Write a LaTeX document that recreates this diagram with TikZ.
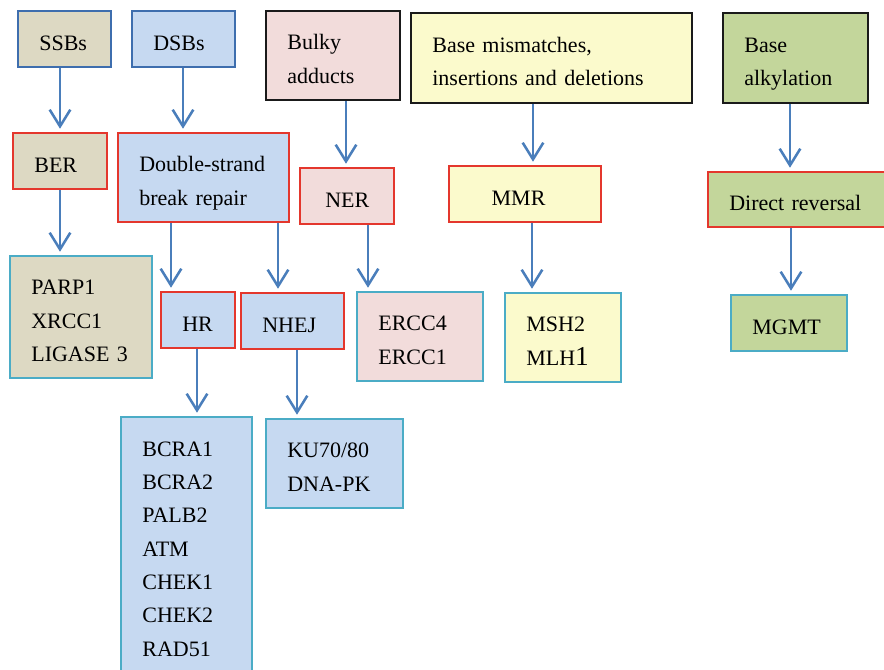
\documentclass[tikz,border=0pt]{standalone}
\usepackage{fontspec}
\setmainfont{Liberation Serif}
\usetikzlibrary{arrows.meta}
\definecolor{tanf}{HTML}{DDD9C3}
\definecolor{bluef}{HTML}{C6D9F1}
\definecolor{pinkf}{HTML}{F2DCDB}
\definecolor{yelf}{HTML}{FBFACC}
\definecolor{grnf}{HTML}{C3D69B}
\definecolor{bluel}{HTML}{3E6EAE}
\definecolor{redl}{HTML}{E4372D}
\definecolor{cyanl}{HTML}{4BACC6}
\definecolor{blackl}{HTML}{1A1A1A}
\definecolor{arrc}{HTML}{4A7EBB}
\newcommand\tS{\rule{0pt}{20.5pt}}
\newcommand\bS{\rule[-4pt]{0pt}{4pt}}
\begin{document}
\begin{tikzpicture}[x=0.75pt,y=-0.75pt,
  bx/.style={rectangle, line width=1.4pt, inner xsep=16pt, inner ysep=2pt, align=left,
    font=\fontsize{16.5pt}{25pt}\selectfont, text=black},
  arr/.style={arrc, line width=1.9pt, -{Straight Barb[length=12.5pt,width=15.5pt]}, shorten >=2.5pt},
]
\useasboundingbox (0,0) rectangle (884,669);
% top row
\node[bx, fill=tanf, draw=bluel, minimum width=69.75pt, minimum height=42pt, text width=37.75pt] (ssb) at (64.5,39) {\tS SSBs\bS};
\node[bx, fill=bluef, draw=bluel, minimum width=77.25pt, minimum height=42pt, text width=45.25pt] (dsb) at (183.5,39) {\tS DSBs\bS};
\node[bx, fill=pinkf, draw=blackl, minimum width=100.5pt, minimum height=66.75pt, text width=68.5pt] (bulky) at (333,55.5) {\tS Bulky\\adducts\bS};
\node[bx, fill=yelf, draw=blackl, minimum width=210.75pt, minimum height=67.5pt, text width=178.75pt] (mis) at (551.5,58) {\tS Base mismatches,\\insertions and deletions\bS};
\node[bx, fill=grnf, draw=blackl, minimum width=108.75pt, minimum height=67.5pt, text width=76.75pt] (alk) at (795.5,58) {\tS Base\\alkylation\bS};
% second row
\node[bx, fill=tanf, draw=redl, minimum width=70.5pt, minimum height=42pt, text width=38.5pt] (ber) at (60,161) {\tS BER\bS};
\node[bx, fill=bluef, draw=redl, minimum width=128.25pt, minimum height=66.75pt, text width=96.25pt] (dsbr) at (203.5,177.5) {\tS\mbox{Double-strand}\\break repair\bS};
\node[bx, fill=pinkf, draw=redl, minimum width=70.5pt, minimum height=42pt, text width=38.5pt] (ner) at (347,196) {\tS\hspace*{3pt}NER\bS};
\node[bx, fill=yelf, draw=redl, minimum width=114pt, minimum height=42pt, text width=82pt] (mmr) at (525,194) {\tS\hspace*{16pt}MMR\bS};
\node[bx, fill=grnf, draw=redl, minimum width=133.5pt, minimum height=41.25pt, text width=101.5pt] (dr) at (797,199.5) {\tS Direct reversal\bS};
% third row
\node[bx, fill=tanf, draw=cyanl, minimum width=106.5pt, minimum height=91.5pt, text width=74.5pt] (parp) at (81,317) {\tS PARP1\\XRCC1\\LIGASE 3\bS};
\node[bx, fill=bluef, draw=redl, minimum width=55.5pt, minimum height=42pt, text width=23.5pt] (hr) at (198,320) {\tS\mbox{HR}\bS};
\node[bx, fill=bluef, draw=redl, minimum width=77.25pt, minimum height=42pt, text width=45.25pt] (nhej) at (292.5,321) {\tS NHEJ\bS};
\node[bx, fill=pinkf, draw=cyanl, minimum width=94.5pt, minimum height=66.75pt, text width=62.5pt] (ercc) at (420,336.5) {\tS ERCC4\\ERCC1\bS};
\node[bx, fill=yelf, draw=cyanl, minimum width=87pt, minimum height=66.75pt, text width=55pt] (msh) at (563,337.5) {\tS MSH2\\MLH{\fontsize{20.5pt}{25pt}\selectfont 1}\bS};
\node[bx, fill=grnf, draw=cyanl, minimum width=87pt, minimum height=42pt, text width=55pt] (mgmt) at (789,323) {\tS MGMT\bS};
% fourth row
\node[bx, fill=bluef, draw=cyanl, minimum width=98.25pt, minimum height=192pt, text width=66.25pt] (bcra) at (186.5,545) {\tS BCRA1\\BCRA2\\PALB2\\ATM\\CHEK1\\CHEK2\\RAD51\bS};
\node[bx, fill=bluef, draw=cyanl, minimum width=102.75pt, minimum height=66.75pt, text width=70.75pt] (ku) at (334.5,463.5) {\tS KU70/80\\\mbox{DNA-PK}\bS};
% arrows
\draw[arr] (ssb.south -| 60,0) -- (ber.north -| 60,0);
\draw[arr] (dsb.south -| 183,0) -- (dsbr.north -| 183,0);
\draw[arr] (bulky.south -| 346,0) -- (ner.north -| 346,0);
\draw[arr] (mis.south -| 533,0) -- (mmr.north -| 533,0);
\draw[arr] (alk.south -| 790,0) -- (dr.north -| 790,0);
\draw[arr] (dr.south -| 791,0) -- (mgmt.north -| 791,0);
\draw[arr] (ber.south -| 60,0) -- (parp.north -| 60,0);
\draw[arr] (dsbr.south -| 171,0) -- (hr.north -| 171,0);
\draw[arr] (dsbr.south -| 278,0) -- (nhej.north -| 278,0);
\draw[arr] (ner.south -| 368,0) -- (ercc.north -| 368,0);
\draw[arr] (mmr.south -| 532,0) -- (msh.north -| 532,0);
\draw[arr] (hr.south -| 197,0) -- (bcra.north -| 197,0);
\draw[arr] (nhej.south -| 297,0) -- (ku.north -| 297,0);
\end{tikzpicture}
\end{document}
